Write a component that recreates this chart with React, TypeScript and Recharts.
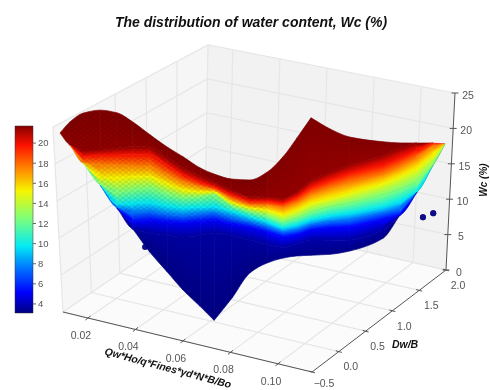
import { Bar, BarChart, Scatter, ScatterChart, XAxis, YAxis } from 'recharts'

const WIDTH = 490
const HEIGHT = 390

// Wc levels traced across the surface, highest first
const wcLevels = [22.6, 21.5, 19.8, 17.5, 15.3, 12.5, 9.8, 7.5, 5.5, 3.8, 3.3]

// Qw*Ho/... value where each trace starts
const qwColumns = [
  0.0082, 0.0124, 0.0179, 0.0251, 0.0322, 0.0389, 0.0461, 0.0533, 0.06, 0.0672, 0.0731, 0.0806,
  0.0882, 0.0954, 0.1021, 0.108, 0.1139, 0.1219, 0.1303, 0.1442, 0.1514, 0.1585, 0.1653, 0.1703,
]

const dwTable = [
  [-0.21, -0.06, 0.17, 0.49, 0.79, 1.18, 1.55, 1.86, 2.14, 2.37, 2.44],
  [0.05, -0.24, -0.01, 0.31, 0.61, 1.0, 1.37, 1.69, 1.96, 2.19, 2.26],
  [0.28, -0.27, -0.17, 0.03, 0.33, 0.72, 1.09, 1.4, 1.68, 1.91, 1.98],
  [0.42, -0.19, -0.05, 0.07, 0.13, 0.38, 0.75, 1.06, 1.34, 1.57, 1.64],
  [0.45, -0.07, 0.03, 0.15, 0.21, 0.31, 0.45, 0.71, 0.98, 1.22, 1.28],
  [0.35, 0.03, 0.11, 0.21, 0.31, 0.44, 0.56, 0.69, 0.79, 0.89, 0.96],
  [0.19, 0.11, 0.19, 0.28, 0.39, 0.56, 0.65, 0.79, 0.91, 0.9, 0.6],
  [0.04, -0.02, 0.08, 0.21, 0.34, 0.53, 0.67, 0.82, 0.96, 0.94, 0.31],
  [-0.07, -0.13, -0.03, 0.15, 0.3, 0.53, 0.71, 0.87, 1.02, 0.98, 0.04],
  [-0.2, -0.2, -0.09, 0.14, 0.34, 0.63, 0.81, 0.99, 1.12, 1.1, -0.19],
  [-0.25, -0.25, -0.11, 0.15, 0.41, 0.74, 0.88, 1.08, 1.22, 1.21, -0.39],
  [-0.26, -0.32, -0.18, 0.06, 0.29, 0.61, 0.89, 1.07, 1.23, 1.24, 0.12],
  [-0.19, -0.36, -0.21, 0.03, 0.28, 0.59, 0.86, 1.08, 1.26, 1.25, 0.69],
  [0.04, -0.28, -0.13, 0.11, 0.32, 0.59, 0.85, 1.07, 1.25, 1.25, 0.96],
  [0.41, -0.24, -0.09, 0.14, 0.3, 0.56, 0.81, 1.05, 1.23, 1.27, 1.13],
  [0.84, -0.04, 0.1, 0.3, 0.47, 0.7, 0.94, 1.16, 1.34, 1.4, 1.24],
  [1.29, 0.25, 0.35, 0.52, 0.67, 0.88, 1.1, 1.32, 1.5, 1.54, 1.32],
  [1.17, 0.5, 0.58, 0.74, 0.85, 1.07, 1.27, 1.47, 1.63, 1.63, 1.43],
  [1.11, 0.73, 0.81, 0.94, 1.05, 1.24, 1.42, 1.6, 1.74, 1.73, 1.59],
  [1.18, 1.08, 1.12, 1.25, 1.4, 1.55, 1.69, 1.9, 2.04, 2.08, 1.99],
  [1.24, 1.29, 1.34, 1.48, 1.61, 1.75, 1.89, 2.05, 2.21, 2.45, 2.52],
  [1.32, 1.47, 1.57, 1.73, 1.85, 1.96, 2.14, 2.46, 2.73, 2.97, 3.04],
  [1.4, 1.55, 1.78, 2.04, 2.17, 2.36, 2.73, 3.05, 3.33, 3.56, 3.63],
  [1.44, 1.59, 1.82, 2.14, 2.44, 2.82, 3.19, 3.51, 3.79, 4.02, 4.09],
]

// measured samples as [Qw.., Dw/B, Wc]
const samples = [
  [0.0217, 0.5, 4.6],
  [0.1097, 1.8, 9.0],
  [0.1118, 1.9, 9.2],
]

const qwTicks = [0.02, 0.04, 0.06, 0.08, 0.1]
const dwTicks = [-0.5, 0, 0.5, 1, 1.5, 2]
const wcTicks = [0, 5, 10, 15, 20, 25]
const colorbarTicks = [4, 6, 8, 10, 12, 14, 16, 18, 20]
const colorbarRange = [3.1, 21.7]

const QW_MIN = 0.0095
const QW_MAX = 0.1143
const DW_MIN = -0.5
const DW_MAX = 2
const WC_MAX = 25
const TEXT_COLOR = '#555'
const SANS = '"Liberation Sans", Arial, sans-serif'

// sharp corners of the surface outline: [column, level]
const outlineCorners = ['16-0', '10-10']

type Pt = { x: number; y: number }

const mix = (a: Pt, b: Pt, t: number) => ({ x: a.x + (b.x - a.x) * t, y: a.y + (b.y - a.y) * t })

// view of the box: where its corners land in the plot
const box = {
  c000: { x: 63, y: 312 },
  c100: { x: 312, y: 372 },
  c010: { x: 205, y: 215 },
  c110: { x: 446, y: 270 },
  c001: { x: 53, y: 127 },
  c101: { x: 315, y: 182 },
  c011: { x: 208, y: 45 },
  c111: { x: 455, y: 93 },
}

function project(q: number, d: number, z: number): Pt {
  const u = (q - QW_MIN) / (QW_MAX - QW_MIN)
  const v = (d - DW_MIN) / (DW_MAX - DW_MIN)
  const w = z / WC_MAX
  const low = mix(mix(box.c000, box.c100, u), mix(box.c010, box.c110, u), v)
  const high = mix(mix(box.c001, box.c101, u), mix(box.c011, box.c111, u), v)
  return mix(low, high, w)
}

// the surface uses one straight view direction so traces stay upright
const VIEW_SKEW = 53 / 2375
function projectSurface(q: number, d: number, z: number): Pt {
  const u = d + 0.5
  return { x: 88 + 2375 * (q - 0.02) + 53 * u, y: 318 + 600 * (q - 0.02) - 39 * u - 7.2 * z }
}

function jet(z: number) {
  const f = Math.min(1, Math.max(0, (z - 3.2) / 18.6))
  const ramp = (a: number, b: number) => Math.min(1, Math.max(0, (f - a) / (b - a)))
  const r = f < 0.89 ? ramp(0.35, 0.66) : 1 - 0.5 * ramp(0.89, 1)
  const g = ramp(0.125, 0.375) * (1 - ramp(0.64, 0.91))
  const b = f < 0.11 ? 0.5 + 0.5 * ramp(0, 0.11) : 1 - ramp(0.34, 0.65)
  return `rgb(${Math.round(r * 255)},${Math.round(g * 255)},${Math.round(b * 255)})`
}

const surfaceNode = (i: number, j: number) => {
  const d = dwTable[i][j]
  return projectSurface(qwColumns[i] - VIEW_SKEW * (d + 0.5), d, wcLevels[j])
}

// slopes along one level, flat at bends so the trace never overshoots
function levelSlopes(nodes: Pt[]) {
  const sec = nodes.slice(1).map((p, i) => (p.y - nodes[i].y) / (p.x - nodes[i].x))
  return nodes.map((_, i) => {
    if (i === 0) return sec[0]
    if (i === nodes.length - 1) return sec[i - 1]
    const a = sec[i - 1]
    const b = sec[i]
    return a * b <= 0 ? 0 : (2 * a * b) / (a + b)
  })
}

const levelNodes = wcLevels.map((_, j) => qwColumns.map((_, i) => surfaceNode(i, j)))
const slopes = levelNodes.map(levelSlopes)

// bezier handles between columns i and i+1 on level j
function handles(i: number, j: number) {
  const p = levelNodes[j][i]
  const n = levelNodes[j][i + 1]
  const h = (n.x - p.x) / 3
  const sec = (n.y - p.y) / (n.x - p.x)
  const m0 = outlineCorners.includes(`${i}-${j}`) ? sec : slopes[j][i]
  const m1 = outlineCorners.includes(`${i + 1}-${j}`) ? sec : slopes[j][i + 1]
  return [
    { x: p.x + h, y: p.y + m0 * h },
    { x: n.x - h, y: n.y - m1 * h },
  ]
}

const facets: any[] = []
for (let i = 0; i < qwColumns.length - 1; i++) {
  for (let j = 0; j < wcLevels.length - 1; j++) {
    const a = levelNodes[j][i]
    const b = levelNodes[j][i + 1]
    const c = levelNodes[j + 1][i + 1]
    const e = levelNodes[j + 1][i]
    if (Math.abs(a.y - e.y) + Math.abs(b.y - c.y) < 1) continue
    const top = mix(a, b, 0.5)
    const bottom = mix(e, c, 0.5)
    const ex = b.x - a.x + c.x - e.x
    const ey = b.y - a.y + c.y - e.y
    const len = Math.hypot(ex, ey) || 1
    const nx = -ey / len
    const ny = ex / len
    const span = (bottom.x - top.x) * nx + (bottom.y - top.y) * ny
    const [t0, t1] = handles(i, j)
    const [b0, b1] = handles(i, j + 1)
    facets.push({
      x: a.x,
      y: a.y,
      a,
      t0,
      t1,
      b,
      c,
      b1,
      b0,
      e,
      id: `f${i}-${j}`,
      from: jet(wcLevels[j]),
      to: jet(wcLevels[j + 1]),
      g1: top,
      g2: { x: top.x + nx * span, y: top.y + ny * span },
      texture: i < 13 ? 'lattice' : '',
      stripe: i >= 14 && j >= 1 && j < 8,
    })
  }
}

const polygon = (pts: Pt[], extra = {}) => ({ x: pts[0].x, y: pts[0].y, pts, ...extra })

const walls = [
  polygon([box.c000, box.c100, box.c110, box.c010], { fill: '#fbfbfb' }),
  polygon([box.c000, box.c010, box.c011, box.c001], { fill: '#f6f6f6' }),
  polygon([box.c010, box.c110, box.c111, box.c011], { fill: '#f2f2f2' }),
]

const gridLines: any[] = []
qwTicks.forEach((q) => {
  gridLines.push(polygon([project(q, DW_MIN, 0), project(q, DW_MAX, 0), project(q, DW_MAX, WC_MAX)]))
})
dwTicks.forEach((d) => {
  gridLines.push(polygon([project(QW_MAX, d, 0), project(QW_MIN, d, 0), project(QW_MIN, d, WC_MAX)]))
})
wcTicks.forEach((z) => {
  gridLines.push(polygon([project(QW_MIN, DW_MIN, z), project(QW_MIN, DW_MAX, z), project(QW_MAX, DW_MAX, z)]))
})

const axisLines = [
  polygon([box.c000, box.c100]),
  polygon([box.c100, box.c110]),
  polygon([box.c110, box.c111]),
]
const tickMark = (p: Pt, dx: number, dy: number) => polygon([{ x: p.x - dx, y: p.y - dy }, { x: p.x + dx, y: p.y + dy }])
qwTicks.forEach((q) => axisLines.push(tickMark(project(q, DW_MIN, 0), 2.5, -2)))
dwTicks.forEach((d) => axisLines.push(tickMark(project(QW_MAX, d, 0), 3, 0.8)))
wcTicks.forEach((z) => axisLines.push(tickMark(project(QW_MAX, DW_MAX, z), 3.5, 0)))

const tickLabels = [
  ...qwTicks.map((q) => {
    const p = project(q, DW_MIN, 0)
    return { x: p.x - 7, y: p.y + 18, text: q.toFixed(2) }
  }),
  ...dwTicks.map((d) => {
    const p = project(QW_MAX, d, 0)
    return { x: p.x + 12, y: p.y + (d < 0 ? 12 : 16), text: d < 0 ? `\u2212${Math.abs(d).toFixed(1)}` : d.toFixed(1) }
  }),
  ...wcTicks.map((z) => {
    const p = project(QW_MAX, DW_MAX, z)
    return { x: p.x + 13, y: p.y + 3, text: String(z) }
  }),
]

const sampleDots = samples.map(([q, d, z]) => projectSurface(q, d, z))

const pathOf = (pts: Pt[], cx: number, cy: number, closed: boolean) =>
  pts.map((p, i) => `${i ? 'L' : 'M'}${cx + p.x - pts[0].x} ${cy + p.y - pts[0].y}`).join('') + (closed ? 'Z' : '')

function WallShape({ cx, cy, payload }: any) {
  return <path d={pathOf(payload.pts, cx, cy, true)} fill={payload.fill} stroke="none" />
}

function GridShape({ cx, cy, payload }: any) {
  return <path d={pathOf(payload.pts, cx, cy, false)} fill="none" stroke="#e6e6e6" strokeWidth={1.2} />
}

function AxisShape({ cx, cy, payload }: any) {
  return <path d={pathOf(payload.pts, cx, cy, false)} fill="none" stroke="#555" strokeWidth={1} />
}

function FacetShape({ cx, cy, payload }: any) {
  const ox = cx - payload.x
  const oy = cy - payload.y
  const at = (p: Pt) => `${p.x + ox} ${p.y + oy}`
  const { a, t0, t1, b, c, b1, b0, e } = payload
  const outline = `M${at(a)}C${at(t0)} ${at(t1)} ${at(b)}L${at(c)}C${at(b1)} ${at(b0)} ${at(e)}Z`
  return (
    <g>
      <defs>
        <linearGradient
          id={payload.id}
          gradientUnits="userSpaceOnUse"
          x1={payload.g1.x + ox}
          y1={payload.g1.y + oy}
          x2={payload.g2.x + ox}
          y2={payload.g2.y + oy}
        >
          <stop offset="0%" stopColor={payload.from} />
          <stop offset="100%" stopColor={payload.to} />
        </linearGradient>
      </defs>
      <path d={outline} fill={`url(#${payload.id})`} stroke={`url(#${payload.id})`} strokeWidth={0.7} />
      {payload.texture && <path d={outline} fill={`url(#${payload.texture})`} stroke="none" />}
      {payload.stripe && (
        <path d={`M${at(e)}C${at(b0)} ${at(b1)} ${at(c)}`} fill="none" stroke="rgba(0,0,0,0.25)" strokeWidth={0.7} />
      )}
    </g>
  )
}

function LabelShape({ cx, cy, payload }: any) {
  return (
    <text x={cx} y={cy} textAnchor="middle" dominantBaseline="middle" fontSize={10.5} fontFamily={SANS} fill={TEXT_COLOR}>
      {payload.text}
    </text>
  )
}

function DotShape({ cx, cy }: any) {
  return <circle cx={cx} cy={cy} r={3} fill="#0d0d85" />
}

const layer = { position: 'absolute', left: 0, top: 0 } as const
const axisTitle = { fontFamily: SANS, fontWeight: 700, fontStyle: 'italic', color: '#111', position: 'absolute', whiteSpace: 'nowrap' } as const

export default function App() {
  return (
    <div style={{ position: 'absolute', left: 0, top: 0, width: WIDTH, height: HEIGHT, overflow: 'hidden', background: '#fff', filter: 'blur(0.4px)' }}>
      <ScatterChart width={WIDTH} height={HEIGHT} margin={{ top: 0, right: 0, bottom: 0, left: 0 }} style={layer}>
        <defs>
          <pattern id="lattice" width={6} height={4.6} patternUnits="userSpaceOnUse">
            <path d="M0 2.3L3 0L6 2.3L3 4.6Z" fill="none" stroke="rgba(0,0,0,0.16)" strokeWidth={0.7} />
          </pattern>
        </defs>
        <XAxis type="number" dataKey="x" domain={[0, WIDTH]} hide />
        <YAxis type="number" dataKey="y" domain={[0, HEIGHT]} reversed hide />
        <Scatter data={walls} shape={WallShape} isAnimationActive={false} />
        <Scatter data={gridLines} shape={GridShape} isAnimationActive={false} />
        <Scatter data={axisLines} shape={AxisShape} isAnimationActive={false} />
        <Scatter data={sampleDots} shape={DotShape} isAnimationActive={false} />
        <Scatter data={facets} shape={FacetShape} isAnimationActive={false} />
        <Scatter data={sampleDots.slice(1)} shape={DotShape} isAnimationActive={false} />
        <Scatter data={tickLabels} shape={LabelShape} isAnimationActive={false} />
      </ScatterChart>
      <BarChart
        width={60}
        height={HEIGHT}
        data={[{ name: 'Wc', range: colorbarRange }]}
        margin={{ top: 126, right: 0, bottom: 77, left: 15 }}
        barCategoryGap={0}
        style={layer}
      >
        <defs>
          <linearGradient id="jetBar" x1="0" y1="1" x2="0" y2="0">
            {[3.2, 5.2, 7.8, 9.8, 12.5, 15.3, 17.5, 19.8, 21.7].map((z) => (
              <stop key={z} offset={`${((z - 3.2) / 18.5) * 100}%`} stopColor={jet(z)} />
            ))}
          </linearGradient>
        </defs>
        <XAxis dataKey="name" hide />
        <YAxis
          orientation="right"
          type="number"
          domain={colorbarRange}
          ticks={colorbarTicks}
          width={27}
          axisLine={false}
          tickSize={3}
          tick={{ fontSize: 9.5, fill: TEXT_COLOR, fontFamily: SANS }}
        />
        <Bar dataKey="range" fill="url(#jetBar)" stroke="#333" strokeWidth={0.5} isAnimationActive={false} />
      </BarChart>
      <div style={{ ...axisTitle, left: 0, width: 502, top: 14, textAlign: 'center', fontSize: 14 }}>
        The distribution of water content, Wc (%)
      </div>
      <div style={{ ...axisTitle, left: 168, top: 368, fontSize: 10.4, transform: 'translate(-50%, -50%) rotate(15deg)' }}>
        Qw*Ho/q*Fines*γd*N*B/Bo
      </div>
      <div style={{ ...axisTitle, left: 405, top: 344, fontSize: 10.5, transform: 'translate(-50%, -50%)' }}>Dw/B</div>
      <div style={{ ...axisTitle, left: 483, top: 180, fontSize: 10, transform: 'translate(-50%, -50%) rotate(-90deg)' }}>Wc (%)</div>
    </div>
  )
}
